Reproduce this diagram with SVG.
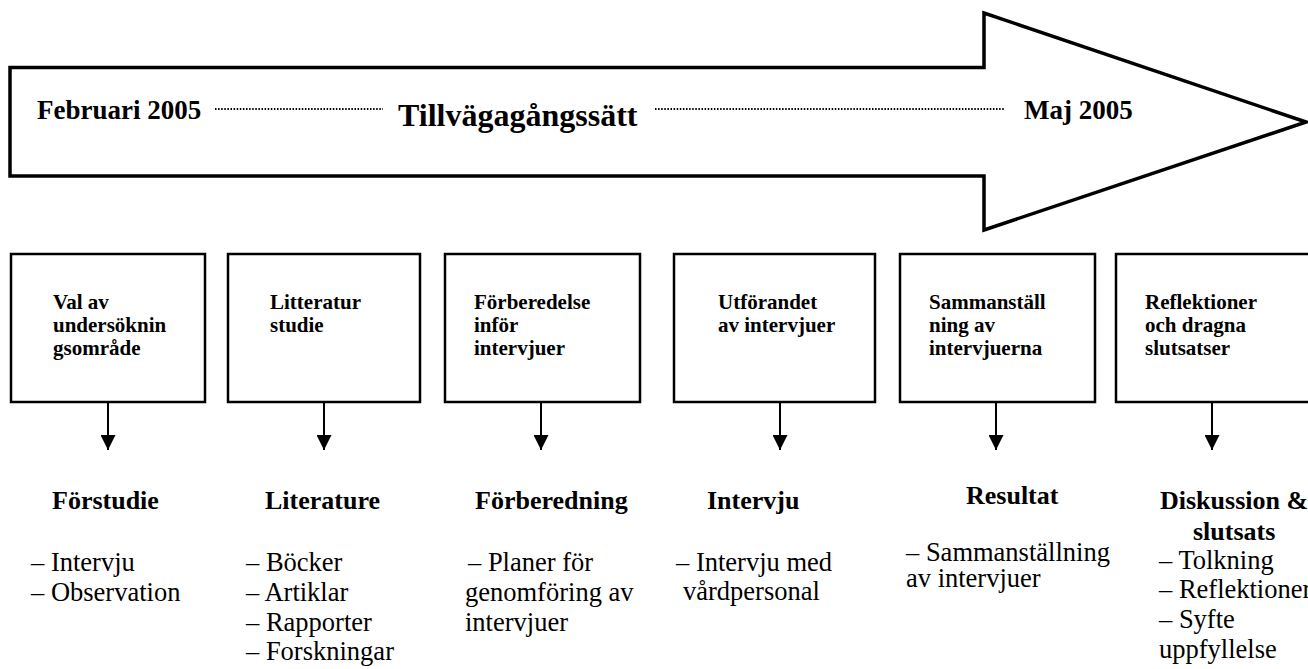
<svg xmlns="http://www.w3.org/2000/svg" width="1308" height="669" viewBox="0 0 1308 669">
<style>
.b{font-family:"Liberation Serif","Times New Roman",serif;font-weight:bold;fill:#000}
.r{font-family:"Liberation Serif","Times New Roman",serif;fill:#000}
.bx{fill:#fff;stroke:#000;stroke-width:2.5}
.dot{stroke:#000;stroke-width:2;stroke-dasharray:1.5 1.6;fill:none}
.con{stroke:#000;stroke-width:2;fill:none}
</style>
<defs>
<marker id="ah" markerWidth="15" markerHeight="15" refX="15" refY="7.5" orient="auto" markerUnits="userSpaceOnUse" viewBox="0 0 15 15">
<path d="M0,0 L15,7.5 L0,15 Z" fill="#000"/>
</marker>
</defs>
<rect width="1308" height="669" fill="#fff"/>
<g id="timeline">
<polygon points="10,67.5 984,67.5 984,13 1306,122 984,230 984,176 10,176" fill="#fff" stroke="#000" stroke-width="3.5"/>
<text class="b" x="37" y="119" font-size="27">Februari 2005</text>
<line class="dot" x1="215" y1="109" x2="383" y2="109"/>
<text class="b" x="398" y="126" font-size="32">Tillvägagångssätt</text>
<line class="dot" x1="655" y1="109" x2="1005" y2="109"/>
<text class="b" x="1024" y="119" font-size="27">Maj 2005</text>
</g>
<g id="connectors">
<line class="con" x1="108" y1="402" x2="108" y2="450" marker-end="url(#ah)"/>
<line class="con" x1="324" y1="402" x2="324" y2="450" marker-end="url(#ah)"/>
<line class="con" x1="541" y1="402" x2="541" y2="450" marker-end="url(#ah)"/>
<line class="con" x1="780" y1="402" x2="780" y2="450" marker-end="url(#ah)"/>
<line class="con" x1="996" y1="402" x2="996" y2="450" marker-end="url(#ah)"/>
<line class="con" x1="1212" y1="402" x2="1212" y2="450" marker-end="url(#ah)"/>
</g>
<g id="n1">
<rect class="bx" x="11" y="254" width="194" height="148"/>
<text class="b" font-size="21"><tspan x="53" y="309">Val av</tspan><tspan x="53" y="332">undersöknin</tspan><tspan x="53" y="355">gsområde</tspan></text>
</g>
<g id="n2">
<rect class="bx" x="228" y="254" width="192" height="148"/>
<text class="b" font-size="21"><tspan x="270" y="309">Litteratur</tspan><tspan x="270" y="332">studie</tspan></text>
</g>
<g id="n3">
<rect class="bx" x="445" y="254" width="195" height="148"/>
<text class="b" font-size="21"><tspan x="474" y="309">Förberedelse</tspan><tspan x="474" y="332">inför</tspan><tspan x="474" y="355">intervjuer</tspan></text>
</g>
<g id="n4">
<rect class="bx" x="674" y="254" width="201" height="148"/>
<text class="b" font-size="21"><tspan x="718" y="309">Utförandet</tspan><tspan x="718" y="332">av intervjuer</tspan></text>
</g>
<g id="n5">
<rect class="bx" x="900" y="254" width="195" height="148"/>
<text class="b" font-size="21"><tspan x="929" y="309">Sammanställ</tspan><tspan x="929" y="332">ning av</tspan><tspan x="929" y="355">intervjuerna</tspan></text>
</g>
<g id="n6">
<rect class="bx" x="1116" y="254" width="200" height="148"/>
<text class="b" font-size="21"><tspan x="1145" y="309">Reflektioner</tspan><tspan x="1145" y="332">och dragna</tspan><tspan x="1145" y="355">slutsatser</tspan></text>
</g>
<g id="c1">
<text class="b" x="52" y="509" font-size="26">Förstudie</text>
<text class="r" font-size="26.5"><tspan x="31" y="571">– Intervju</tspan><tspan x="31" y="601">– Observation</tspan></text>
</g>
<g id="c2">
<text class="b" x="265" y="509" font-size="26">Literature</text>
<text class="r" font-size="26.5"><tspan x="246" y="571">– Böcker</tspan><tspan x="246" y="601">– Artiklar</tspan><tspan x="246" y="631">– Rapporter</tspan><tspan x="246" y="660">– Forskningar</tspan></text>
</g>
<g id="c3">
<text class="b" x="475" y="509" font-size="26">Förberedning</text>
<text class="r" font-size="26.5"><tspan x="468" y="571">– Planer för</tspan><tspan x="465" y="601">genomföring av</tspan><tspan x="465" y="631">intervjuer</tspan></text>
</g>
<g id="c4">
<text class="b" x="707" y="509" font-size="26">Intervju</text>
<text class="r" font-size="26.5"><tspan x="676" y="571">– Intervju med</tspan><tspan x="683" y="600">vårdpersonal</tspan></text>
</g>
<g id="c5">
<text class="b" x="966" y="504" font-size="26">Resultat</text>
<text class="r" font-size="26.5"><tspan x="906" y="561">– Sammanställning</tspan><tspan x="906" y="587">av intervjuer</tspan></text>
</g>
<g id="c6">
<text class="b" x="1160" y="509" font-size="26">Diskussion &amp;</text>
<text class="b" x="1193" y="540" font-size="26">slutsats</text>
<text class="r" font-size="26.5"><tspan x="1159" y="569">– Tolkning</tspan><tspan x="1159" y="598">– Reflektioner</tspan><tspan x="1159" y="628">– Syfte</tspan><tspan x="1159" y="658">uppfyllelse</tspan></text>
</g>
</svg>
